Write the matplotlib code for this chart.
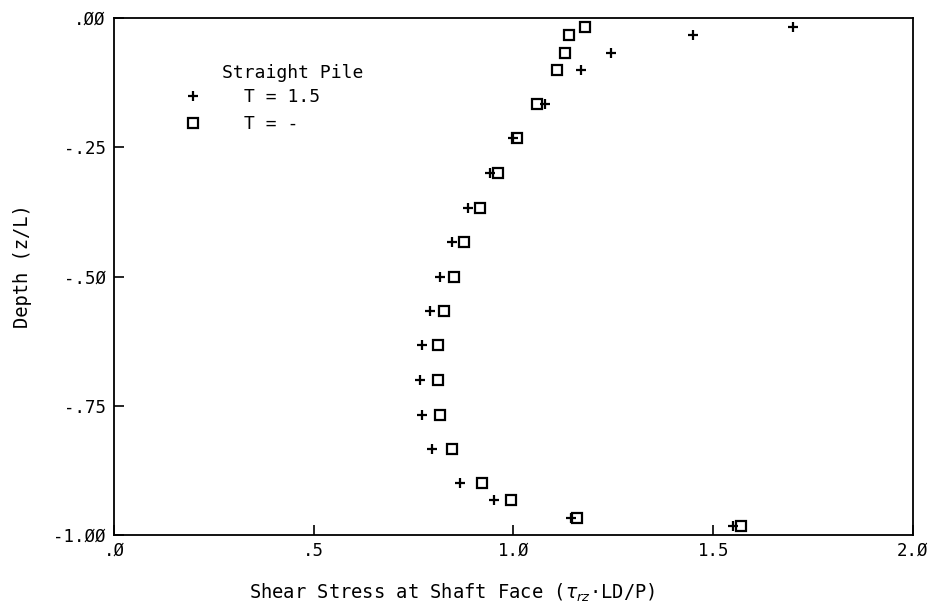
import matplotlib
matplotlib.use("Agg")
import matplotlib.pyplot as plt

# depth (z/L) levels, shared by both series
depth = [-0.017, -0.033, -0.067, -0.100, -0.167, -0.233, -0.300, -0.367, -0.433,
         -0.500, -0.567, -0.633, -0.700, -0.767, -0.833, -0.900, -0.933, -0.967, -0.983]
# shear stress, T = 1.5
stress_t15 = [1.70, 1.45, 1.245, 1.17, 1.08, 1.00, 0.94, 0.885, 0.845,
              0.815, 0.79, 0.772, 0.767, 0.772, 0.797, 0.867, 0.952, 1.145, 1.55]
# shear stress, T = -
stress_tinf = [1.18, 1.14, 1.13, 1.11, 1.06, 1.01, 0.96, 0.915, 0.877,
               0.85, 0.827, 0.812, 0.81, 0.817, 0.845, 0.92, 0.995, 1.16, 1.57]

xticks = [0, 0.5, 1.0, 1.5, 2.0]
xlabels = [".Ø", ".5", "1.Ø", "1.5", "2.Ø"]
yticks = [0, -0.25, -0.5, -0.75, -1.0]
ylabels = [".ØØ", "-.25", "-.5Ø", "-.75", "-1.ØØ"]

plt.rcParams["font.family"] = ["DejaVu Sans Mono", "DejaVu Sans"]

fig = plt.figure(figsize=(9.36, 6.09), dpi=100)
ax = fig.add_axes([0.1218, 0.1215, 0.8536, 0.8489])

ax.plot(stress_t15, depth, linestyle="none", marker="+", markersize=7.5,
        markeredgewidth=1.6, color="black", label="T = 1.5")
ax.plot(stress_tinf, depth, linestyle="none", marker="s", markersize=6.5,
        markeredgewidth=1.6, markerfacecolor="none", color="black", label="T = -")

ax.set_xlim(0, 2.0)
ax.set_ylim(-1.0, 0)
ax.set_xticks(xticks)
ax.set_xticklabels(xlabels, fontsize=12.5)
ax.set_yticks(yticks)
ax.set_yticklabels(ylabels, fontsize=12.5)
ax.tick_params(direction="in", length=7, width=1.2)
ax.tick_params(axis="x", pad=5)
ax.tick_params(axis="y", pad=6)
for s in ax.spines.values():
    s.set_linewidth(1.3)

ax.set_xlabel("Shear Stress at Shaft Face ($\\tau_{rz}$·LD/P)", fontsize=13.5)
ax.xaxis.set_label_coords(0.423, -0.090)
ax.set_ylabel("Depth (z/L)", fontsize=13.5)
ax.yaxis.set_label_coords(-0.103, 0.52)

ax.text(0.135, 0.894, "Straight Pile", transform=ax.transAxes, fontsize=13,
        ha="left", va="center")
ax.legend(loc="upper left", bbox_to_anchor=(0.079, 0.878), frameon=False,
          fontsize=13, handlelength=1.0, handletextpad=2.33, labelspacing=0.5,
          borderaxespad=0)

fig.savefig("out.png", dpi=100)
